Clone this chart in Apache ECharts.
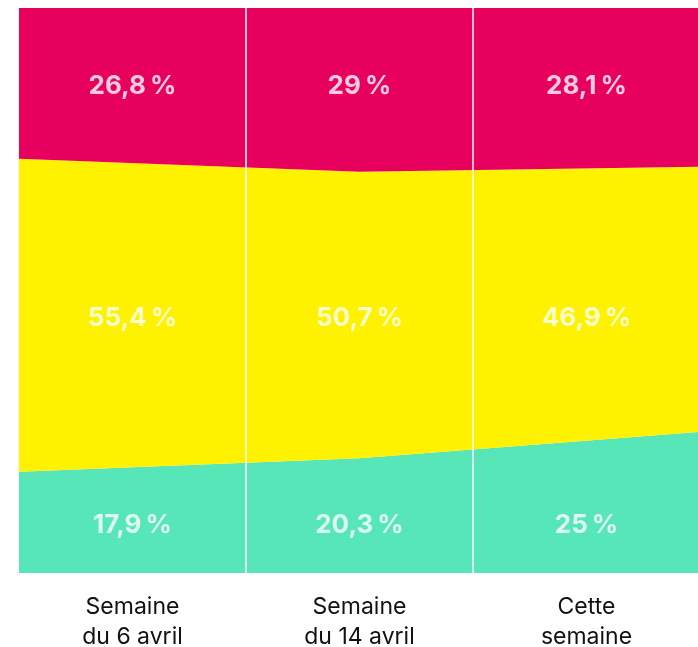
<!DOCTYPE html>
<html>
<head>
<meta charset="utf-8">
<script src="https://cdn.jsdelivr.net/npm/echarts@6/dist/echarts.min.js"></script>
<style>
  html, body { margin: 0; padding: 0; background: #ffffff; }
  #chart { width: 698px; height: 647px; }
</style>
</head>
<body>
<div id="chart"></div>
<script>
const categories = ['Semaine\ndu 6 avril', 'Semaine\ndu 14 avril', 'Cette\nsemaine'];
const vert = [17.9, 20.3, 25];
const jaune = [55.4, 50.7, 46.9];
const rouge = [26.8, 29, 28.1];

const FONT = 'Inter';

const fmt = (v) => String(v).replace('.', ',') + '\u202F%';

// labels of a band all sit on one row, at the band's middle in the first column
const bands = [vert, jaune, rouge];
const labelRows = [];
let base = 0;
bands.forEach((vals) => {
  labelRows.push(base + vals[0] / 2);
  base += vals[0];
});

// areas run edge to edge (boundaryGap false on the hidden axis 0)
const areaSeries = (vals, color) => ({
  type: 'line',
  xAxisIndex: 0,
  stack: 'total',
  symbol: 'none',
  silent: true,
  lineStyle: { width: 0 },
  areaStyle: { color: color, opacity: 1 },
  data: vals,
});

// labels sit at column centres on the hidden value axis 2
const labelSeries = (vals, row) => ({
  type: 'scatter',
  xAxisIndex: 2,
  symbolSize: 0,
  silent: true,
  z: 10,
  label: {
    show: true,
    position: 'inside',
    offset: [0, 3],
    color: '#ffffff',
    fontFamily: FONT,
    fontWeight: 'bold',
    fontSize: 26,
    formatter: (p) => fmt(vals[p.dataIndex]),
  },
  data: vals.map((v, i) => [i + 0.5, row]),
});

const chart = echarts.init(document.getElementById('chart'));
chart.setOption({
  animation: false,
  grid: { left: 19, top: 8, width: 681, bottom: 74, outerBoundsMode: 'none', containLabel: false },
  xAxis: [
    { type: 'category', boundaryGap: false, data: categories, show: false },
    {
      type: 'category',
      position: 'bottom',
      boundaryGap: true,
      data: categories,
      axisLine: { show: false },
      axisTick: { show: false },
      splitLine: { show: false },
      axisLabel: {
        color: '#111111',
        fontFamily: FONT,
        fontSize: 23,
        lineHeight: 30,
        margin: 19,
        align: 'center',
      },
    },
    { type: 'value', min: 0, max: 3, interval: 1, show: false },
  ],
  yAxis: { type: 'value', min: 0, max: 100, show: false },
  series: [
    areaSeries(vert, '#57e6b8'),
    areaSeries(jaune, '#fff200'),
    areaSeries(rouge, '#e8005e'),
    {
      type: 'line',
      xAxisIndex: 2,
      silent: true,
      z: 6,
      data: [],
      markLine: {
        silent: true,
        symbol: 'none',
        label: { show: false },
        lineStyle: { color: '#ffffff', width: 1.5, type: 'solid' },
        data: [{ xAxis: 1 }, { xAxis: 2 }],
      },
    },
    labelSeries(vert, labelRows[0]),
    labelSeries(jaune, labelRows[1]),
    labelSeries(rouge, labelRows[2]),
  ],
});
</script>
</body>
</html>
